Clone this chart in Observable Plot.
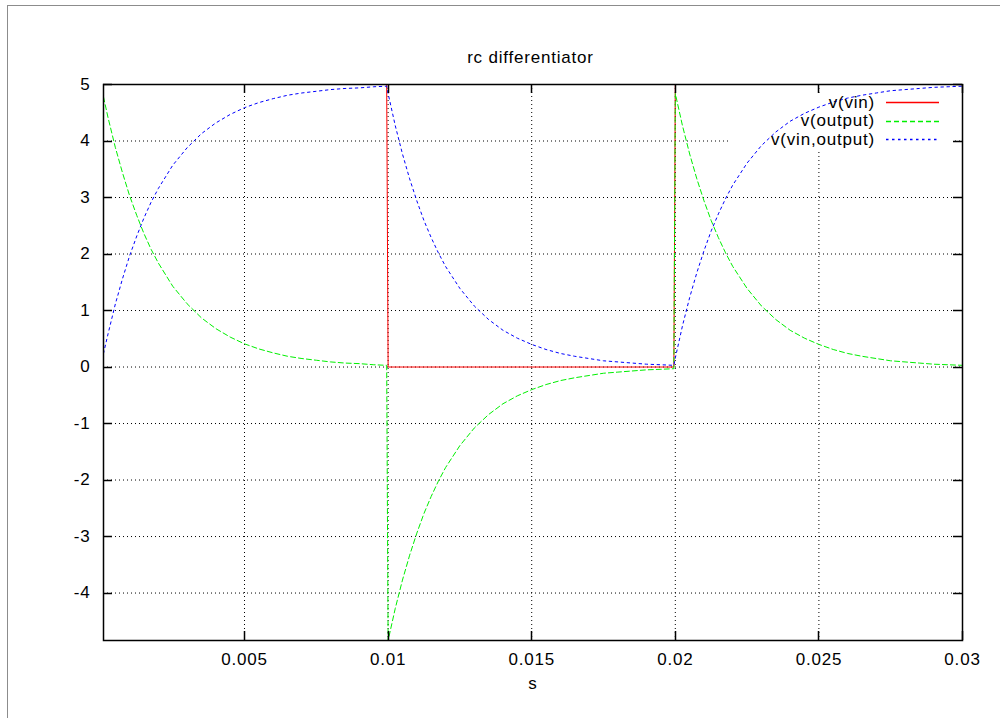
<!DOCTYPE html>
<html>
<head>
<meta charset="utf-8">
<script src="https://cdn.jsdelivr.net/npm/d3@7"></script>
<script src="https://cdn.jsdelivr.net/npm/@observablehq/plot@0.6"></script>
<style>
  html, body { margin: 0; padding: 0; background: #fff; overflow: hidden; }
  #wrap { position: relative; width: 1000px; height: 718px; overflow: hidden; }
  #border { position: absolute; left: 7px; top: 5px; width: 1200px; height: 900px;
            border-left: 1.5px solid #8c8c8c; border-top: 1.5px solid #8c8c8c; }
  #chart { position: absolute; left: 0; top: 0; }
</style>
</head>
<body>
<div id="wrap"><div id="border"></div><div id="chart"></div></div>
<script>
// ---- data ----
const title = "rc differentiator";
const xLabel = "s";
const seriesNames = ["v(vin)", "v(output)", "v(vin,output)"];
const seriesColors = ["#ff0000", "#00f000", "#0000ff"];
const seriesDash = [null, "5,3", "2.5,3.5"];

const xTicks = [0.005, 0.01, 0.015, 0.02, 0.025, 0.03];
const xTickLabels = ["0.005", "0.01", "0.015", "0.02", "0.025", "0.03"];
const yTicks = [-4, -3, -2, -1, 0, 1, 2, 3, 4, 5];
const yTickLabels = ["-4", "-3", "-2", "-1", "0", "1", "2", "3", "4", "5"];
const xDomain = [0.00009, 0.03];
const yDomain = [-4.84, 5];

const time = [
  0.00009, 0.00025, 0.0005, 0.00075, 0.001, 0.00125, 0.0015, 0.00175, 0.002, 0.0025, 0.003, 0.0035, 0.004,
  0.0045, 0.005, 0.0055, 0.006, 0.0065, 0.007, 0.0075, 0.008, 0.0085, 0.009, 0.0095, 0.00995,
  0.01, 0.01025, 0.0105, 0.01075, 0.011, 0.01125, 0.0115, 0.01175, 0.012, 0.0125, 0.013, 0.0135, 0.014,
  0.0145, 0.015, 0.0155, 0.016, 0.0165, 0.017, 0.0175, 0.018, 0.0185, 0.019, 0.0195, 0.01995,
  0.02, 0.02025, 0.0205, 0.02075, 0.021, 0.02125, 0.0215, 0.02175, 0.022, 0.0225, 0.023, 0.0235, 0.024,
  0.0245, 0.025, 0.0255, 0.026, 0.0265, 0.027, 0.0275, 0.028, 0.0285, 0.029, 0.0295, 0.03
];
const vin = [
  5, 5, 5, 5, 5, 5, 5, 5, 5, 5, 5, 5, 5, 5, 5, 5, 5, 5, 5, 5, 5, 5, 5, 5, 5,
  0, 0, 0, 0, 0, 0, 0, 0, 0, 0, 0, 0, 0, 0, 0, 0, 0, 0, 0, 0, 0, 0, 0, 0, 0,
  5, 5, 5, 5, 5, 5, 5, 5, 5, 5, 5, 5, 5, 5, 5, 5, 5, 5, 5, 5, 5, 5, 5, 5, 5
];
const vout = [
  4.78, 4.41, 3.89, 3.44, 3.03, 2.68, 2.36, 2.08, 1.84, 1.43, 1.12, 0.87, 0.68,
  0.53, 0.41, 0.32, 0.25, 0.19, 0.15, 0.12, 0.09, 0.07, 0.06, 0.04, 0.03,
  -4.84, -4.27, -3.77, -3.33, -2.94, -2.59, -2.29, -2.02, -1.78, -1.39, -1.08, -0.84, -0.65,
  -0.51, -0.40, -0.31, -0.24, -0.19, -0.15, -0.11, -0.09, -0.07, -0.05, -0.04, -0.03,
  4.84, 4.27, 3.77, 3.33, 2.94, 2.59, 2.29, 2.02, 1.78, 1.39, 1.08, 0.84, 0.65,
  0.51, 0.40, 0.31, 0.24, 0.19, 0.15, 0.11, 0.09, 0.07, 0.05, 0.04, 0.03
];
const vdiff = [
  0.24, 0.59, 1.11, 1.56, 1.97, 2.32, 2.64, 2.92, 3.16, 3.57, 3.88, 4.13, 4.32,
  4.47, 4.59, 4.68, 4.75, 4.81, 4.85, 4.88, 4.91, 4.93, 4.94, 4.96, 4.97,
  4.84, 4.27, 3.77, 3.33, 2.94, 2.59, 2.29, 2.02, 1.78, 1.39, 1.08, 0.84, 0.65,
  0.51, 0.40, 0.31, 0.24, 0.19, 0.15, 0.11, 0.09, 0.07, 0.05, 0.04, 0.03,
  0.16, 0.73, 1.23, 1.67, 2.06, 2.41, 2.71, 2.98, 3.22, 3.61, 3.92, 4.16, 4.35,
  4.49, 4.60, 4.69, 4.76, 4.81, 4.85, 4.89, 4.91, 4.93, 4.95, 4.96, 4.97
];

(function () {
  const rows = time.map((t, i) => ({t, vin: vin[i], vout: vout[i], vdiff: vdiff[i]}));
  const keys = ["vin", "vout", "vdiff"];
  const font = "'Liberation Sans', Arial, Helvetica, sans-serif";

  const plot = Plot.plot({
    width: 1000,
    height: 718,
    marginLeft: 103,
    marginRight: 38,
    marginTop: 84,
    marginBottom: 78,
    style: {fontFamily: font, fontSize: "17px", letterSpacing: "0.8px", background: "transparent", color: "#000"},
    x: {domain: xDomain, axis: null},
    y: {domain: yDomain, axis: null},
    marks: [
      Plot.ruleX(xTicks, {x: d => d, stroke: "#000", strokeDasharray: "1,3", strokeWidth: 1}),
      Plot.ruleY(yTicks, {y: d => d, stroke: "#000", strokeDasharray: "1,3", strokeWidth: 1}),
      // opaque key box (covers grid, not curves)
      Plot.frame({fill: "#fff", stroke: "none", insetLeft: 625, insetRight: 10, insetTop: 9, insetBottom: 490}),
      ...keys.map((k, i) => Plot.line(rows, {
        x: "t", y: k, stroke: seriesColors[i], strokeWidth: 1,
        strokeDasharray: seriesDash[i] || undefined, clip: true
      })),
      Plot.frame({stroke: "#000", strokeWidth: 1.5}),
      Plot.text(xTicks, {x: d => d, y: yDomain[0], dy: 19, text: (d, i) => xTickLabels[i], textAnchor: "middle", fill: "#000"}),
      Plot.text(yTicks, {x: xDomain[0], y: d => d, dx: -13, text: (d, i) => yTickLabels[i], textAnchor: "end", fill: "#000"}),
      Plot.text([xLabel], {frameAnchor: "bottom", dy: 48, text: d => d, fill: "#000"})
    ]
  });

  document.getElementById("chart").appendChild(plot);

  const sx = plot.scale("x"), sy = plot.scale("y");
  const fL = sx.apply(xDomain[0]), fR = sx.apply(xDomain[1]);
  const fT = sy.apply(yDomain[1]), fB = sy.apply(yDomain[0]);
  const svg = d3.select(plot);
  const g = svg.append("g").attr("stroke", "#000").attr("stroke-width", 1.5);
  xTicks.forEach(v => {
    const x = Math.round(sx.apply(v)) + 0.5;
    g.append("line").attr("x1", x).attr("x2", x).attr("y1", fB).attr("y2", fB - 9);
    g.append("line").attr("x1", x).attr("x2", x).attr("y1", fT).attr("y2", fT + 9);
  });
  yTicks.forEach(v => {
    const y = Math.round(sy.apply(v)) + 0.5;
    g.append("line").attr("x1", fL).attr("x2", fL + 9).attr("y1", y).attr("y2", y);
    g.append("line").attr("x1", fR).attr("x2", fR - 9).attr("y1", y).attr("y2", y);
  });

  svg.append("text").attr("x", (fL + fR) / 2 - 2).attr("y", 63)
    .attr("text-anchor", "middle").attr("fill", "#000")
    .style("font-family", font).style("font-size", "17px").style("letter-spacing", "0.8px")
    .text(title);

  const lg = svg.append("g");
  seriesNames.forEach((name, i) => {
    const cy = fT + 18 + i * 18.5;
    lg.append("text").attr("x", fR - 87).attr("y", cy + 5.5)
      .attr("text-anchor", "end").attr("fill", "#000")
      .style("font-family", font).style("font-size", "17px").style("letter-spacing", "0.8px")
      .text(name);
    const yy = Math.round(cy) + 0.5;
    const ln = lg.append("path").attr("d", `M${fR - 76},${yy}H${fR - 23}`)
      .attr("fill", "none")
      .style("stroke", seriesColors[i]).style("stroke-width", "1.3px");
    if (seriesDash[i]) ln.style("stroke-dasharray", seriesDash[i]);
  });
})();
</script>
</body>
</html>
